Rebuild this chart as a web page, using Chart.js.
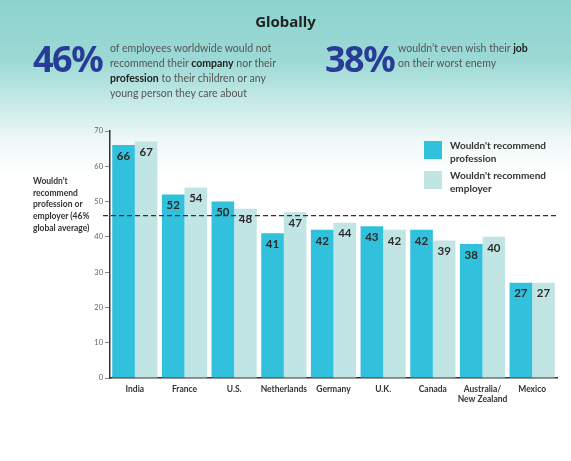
<!DOCTYPE html>
<html>
<head>
<meta charset="utf-8">
<script src="https://cdn.jsdelivr.net/npm/chart.js@4.4.0/dist/chart.umd.min.js"></script>
<style>
  html, body { margin: 0; padding: 0; }
  body {
    width: 571px; height: 461px; position: relative; overflow: hidden;
    background: linear-gradient(180deg, #8cd3ce 0px, #9cd9d5 60px, #c9ebe8 105px, #eef8f7 140px, #ffffff 175px);
    font-family: Lato, sans-serif;
  }
  #wrap { position: absolute; left: 0; top: 0; width: 571px; height: 461px; }
  #grafico { display: block; width: 571px; height: 461px; }
  .abs { position: absolute; }
  #titulo { left: 0; width: 571px; top: 11px; text-align: center; font: bold 15px "Noto Sans", sans-serif; color: #222; }
  .big { font: bold 36px "Noto Sans", sans-serif; color: #283c95; letter-spacing: -1.5px; line-height: 40px; }
  .txt { font: 10.5px Lato, sans-serif; color: #555; line-height: 15px; }
  .txt b { color: #222; }
  #eixoTitulo { left: 33px; top: 176px; font: bold 8.5px Lato, sans-serif; color: #333; line-height: 11.7px; }
  .leg { font: bold 10px Lato, sans-serif; color: #333; line-height: 13px; }
  .quad { width: 18px; height: 18px; }
</style>
</head>
<body>
<div id="wrap"><canvas id="grafico" width="571" height="461"></canvas></div>

<div id="titulo" class="abs">Globally</div>
<div class="abs big" style="left:33px; top:39px;">46%</div>
<div class="abs txt" style="left:110px; top:41px;">of employees worldwide would not<br>recommend their <b>company</b> nor their<br><b>profession</b> to their children or any<br>young person they care about</div>
<div class="abs big" style="left:325px; top:39px;">38%</div>
<div class="abs txt" style="left:398px; top:41px;">wouldn’t even wish their <b>job</b><br>on their worst enemy</div>

<div id="eixoTitulo" class="abs">Wouldn't<br>recommend<br>profession or<br>employer (46%<br>global average)</div>

<div class="abs quad" style="left:424px; top:141px; background:#31c1dd;"></div>
<div class="abs leg" style="left:450px; top:139px;">Wouldn't recommend<br>profession</div>
<div class="abs quad" style="left:424px; top:171px; background:#c1e5e5;"></div>
<div class="abs leg" style="left:450px; top:169px;">Wouldn't recommend<br>employer</div>

<script>
const paises = ["India", "France", "U.S.", "Netherlands", "Germany", "U.K.", "Canada", ["Australia/", "New Zealand"], "Mexico"];
const profissao = [66, 52, 50, 41, 42, 43, 42, 38, 27];
const empregador = [67, 54, 48, 47, 44, 42, 39, 40, 27];
const mediaGlobal = 46;
const ticksY = [0, 10, 20, 30, 40, 50, 60, 70];

// valores dentro das barras + linha da média
const extras = {
  id: 'extras',
  afterDatasetsDraw(chart) {
    const ctx = chart.ctx;
    ctx.save();
    ctx.font = "bold 11.5px Lato, sans-serif";
    ctx.fillStyle = "#2b2b2b";
    ctx.textAlign = "center";
    ctx.textBaseline = "middle";
    chart.data.datasets.forEach((ds, i) => {
      chart.getDatasetMeta(i).data.forEach((bar, j) => {
        ctx.fillText(ds.data[j], bar.x, bar.y + 11);
      });
    });
    const y = chart.scales.y.getPixelForValue(mediaGlobal);
    ctx.strokeStyle = "#333";
    ctx.lineWidth = 1.3;
    ctx.setLineDash([5, 3]);
    ctx.beginPath();
    ctx.moveTo(chart.chartArea.left - 7, y);
    ctx.lineTo(chart.chartArea.right, y);
    ctx.stroke();
    ctx.restore();
  }
};

const ctx = document.getElementById('grafico').getContext('2d');
const grafico = new Chart(ctx, {
  type: 'bar',
  data: {
    labels: paises,
    datasets: [
      { label: "Wouldn't recommend profession", data: profissao, backgroundColor: '#31c1dd', borderWidth: 0 },
      { label: "Wouldn't recommend employer", data: empregador, backgroundColor: '#c1e5e5', borderWidth: 0 }
    ]
  },
  options: {
    responsive: false,
    animation: false,
    layout: { padding: { left: 88, right: 14, top: 131, bottom: 43 } },
    plugins: { legend: { display: false }, tooltip: { enabled: false } },
    datasets: { bar: { categoryPercentage: 0.91, barPercentage: 1.0 } },
    scales: {
      x: {
        grid: { display: false },
        border: { color: '#333', width: 1.5 },
        ticks: { color: '#333', font: { family: 'Lato', size: 8.5, weight: 'bold' }, padding: -2, maxRotation: 0, autoSkip: false },
        afterFit: s => { s.height = 40; }
      },
      y: {
        min: 0, max: 70,
        afterBuildTicks: s => { s.ticks = ticksY.map(v => ({ value: v })); },
        grid: { drawOnChartArea: false, tickLength: 5, color: '#888', tickWidth: 1 },
        border: { color: '#333', width: 1.5 },
        ticks: { color: '#666', font: { family: 'Lato', size: 7.5 }, padding: 2 },
        afterFit: s => { s.width = 22; }
      }
    }
  },
  plugins: [extras]
});
</script>
</body>
</html>
